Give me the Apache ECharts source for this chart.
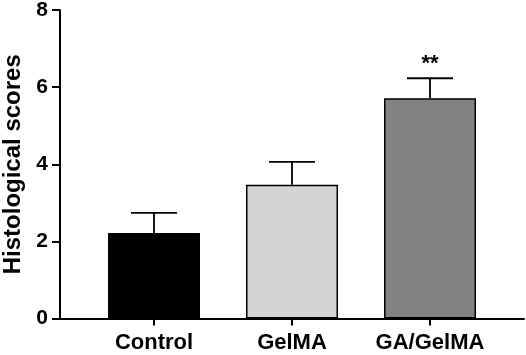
<!DOCTYPE html>
<html>
<head>
<meta charset="utf-8">
<script src="https://cdn.jsdelivr.net/npm/echarts@6/dist/echarts.min.js"></script>
<style>
  html, body { margin: 0; padding: 0; background: #fff; }
  #chart { width: 526px; height: 355px; }
</style>
</head>
<body>
<div id="chart"></div>
<script>
// group names, means and upper SD
var categories = ['Control', 'GelMA', 'GA/GelMA'];
var means = [2.22, 3.47, 5.71];
var errors = [0.52, 0.59, 0.52];
var barColors = ['#000000', '#d4d4d4', '#828282'];
var marks = ['', '', '**'];
var yTicks = [0, 2, 4, 6, 8];

var font = '"Liberation Sans", Arial, sans-serif';

var chart = echarts.init(document.getElementById('chart'));

var barData = categories.map(function (c, i) {
    return {
        value: [i, means[i]],
        itemStyle: { color: barColors[i] }
    };
});
var errData = categories.map(function (c, i) {
    return [i, means[i], means[i] + errors[i]];
});

chart.setOption({
    animation: false,
    grid: { left: 60, right: 2, top: 10, bottom: 36.5, outerBoundsMode: 'none', containLabel: false },
    xAxis: {
        type: 'value',
        min: -0.681,
        max: 2.681,
        splitLine: { show: false },
        axisLine: { show: true, onZero: false, lineStyle: { color: '#000', width: 2 } },
        axisTick: {
            show: true, customValues: [0, 1, 2], length: 7,
            lineStyle: { color: '#000', width: 2 }
        },
        axisLabel: {
            customValues: [0, 1, 2],
            formatter: function (v) { return categories[Math.round(v)]; },
            color: '#000',
            fontFamily: font,
            fontWeight: 'bold',
            fontSize: 22,
            margin: 13
        }
    },
    yAxis: {
        type: 'value',
        min: yTicks[0],
        max: yTicks[yTicks.length - 1],
        interval: 2,
        name: 'Histological scores',
        nameLocation: 'middle',
        nameGap: 25,
        nameTextStyle: {
            color: '#000', fontFamily: font, fontWeight: 'bold', fontSize: 24
        },
        splitLine: { show: false },
        axisLine: { show: true, onZero: false, lineStyle: { color: '#000', width: 2 } },
        axisTick: { show: true, length: 8, lineStyle: { color: '#000', width: 2 } },
        axisLabel: {
            color: '#000', fontFamily: font, fontWeight: 'bold', fontSize: 21, margin: 12
        }
    },
    series: [
        {
            type: 'bar',
            barWidth: 92,
            data: barData,
            itemStyle: { borderColor: '#000', borderWidth: 1.5 },
            z: 2
        },
        {
            type: 'custom',
            data: errData,
            z: 3,
            renderItem: function (params, api) {
                var x = api.value(0);
                var top = api.coord([x, api.value(1)]);
                var hi = api.coord([x, api.value(2)]);
                var half = 23;
                var style = { stroke: '#000', lineWidth: 1.8 };
                var children = [
                    { type: 'line', shape: { x1: top[0], y1: top[1], x2: hi[0], y2: hi[1] }, style: style },
                    { type: 'line', shape: { x1: hi[0] - half, y1: hi[1], x2: hi[0] + half, y2: hi[1] }, style: style }
                ];
                var m = marks[params.dataIndex];
                if (m) {
                    children.push({
                        type: 'text',
                        x: hi[0],
                        y: hi[1] - 3,
                        style: {
                            text: m, fill: '#000', fontFamily: font, fontWeight: 'bold',
                            fontSize: 22, align: 'center', verticalAlign: 'bottom'
                        }
                    });
                }
                return { type: 'group', children: children };
            }
        }
    ]
});
</script>
</body>
</html>
